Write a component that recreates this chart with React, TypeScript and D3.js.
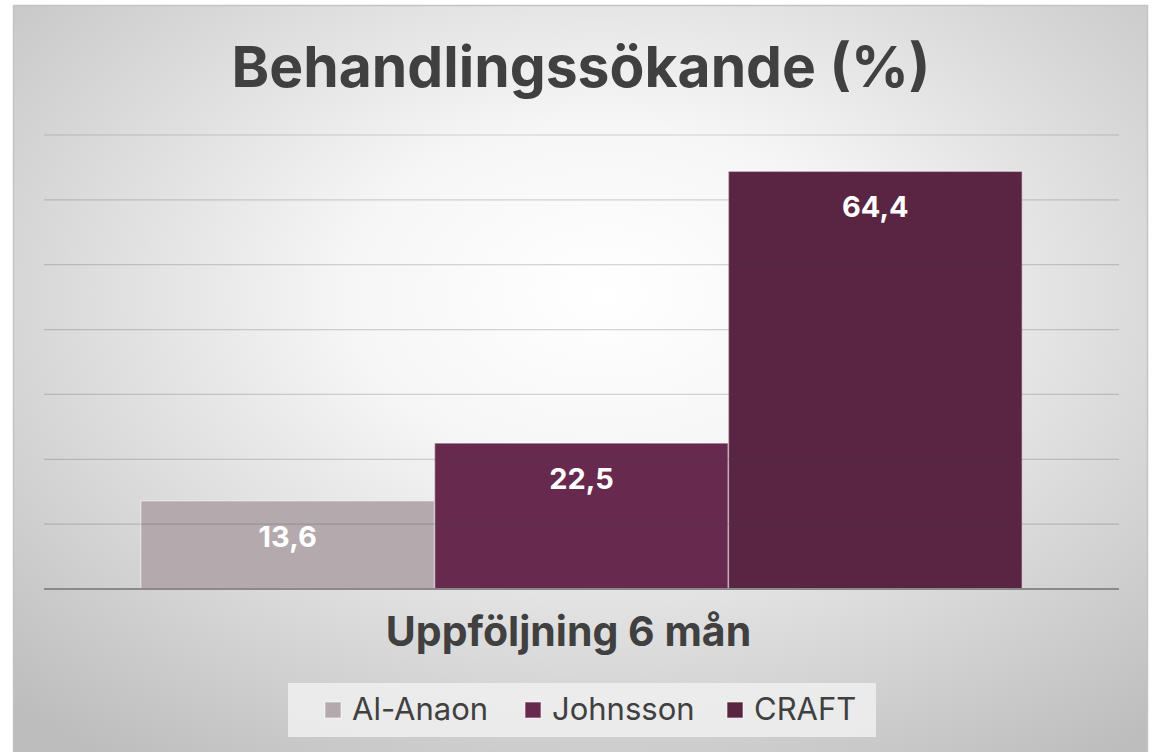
import React from "react";
import * as d3 from "d3";

const categories = ["Uppföljning 6 mån"];
const seriesNames = ["Al-Anaon", "Johnsson", "CRAFT"];
const seriesValues = [13.6, 22.5, 64.4];
const seriesColors = ["#b4a9ad", "#68294f", "#5a2443"];
const yTicks = [0, 10, 20, 30, 40, 50, 60, 70];
const title = "Behandlingssökande (%)";

export default function App() {
  const W = 1152, H = 752;
  const left = 44, right = 1119, top = 135, bottom = 589;
  const y = d3.scaleLinear().domain([0, 70]).range([bottom, top]);
  const x0 = d3.scaleBand<string>().domain(categories).range([left, right]).paddingInner(0.18).paddingOuter(0.09);
  const x1 = d3.scaleBand<string>().domain(seriesNames).range([0, x0.bandwidth()]);
  const font = "Inter, 'DejaVu Sans', sans-serif";
  const legendX = [325, 525, 727];
  return (
    <svg width={W} height={H} style={{ position: "fixed", left: 0, top: 0 }} fontFamily={font}>
      <defs>
        <radialGradient id="bg" cx="52%" cy="38%" r="75%">
          <stop offset="0%" stopColor="#ffffff" />
          <stop offset="30%" stopColor="#f6f6f6" />
          <stop offset="100%" stopColor="#bdbdbd" />
        </radialGradient>
      </defs>
      <rect x={0} y={0} width={W} height={H} fill="#ffffff" />
      <rect x={13.5} y={5.5} width={1134} height={760} fill="url(#bg)" stroke="#c4c4c4" strokeWidth={1.5} />
      <text x={581} y={87} textAnchor="middle" fontSize={57} fontWeight={700} fill="#404040">{title}</text>
      {categories.map((c) => (
        <g key={c}>
          {seriesNames.map((s, i) => (
            <rect key={s}
              x={(x0(c) ?? 0) + (x1(s) ?? 0)}
              y={y(seriesValues[i])}
              width={x1.bandwidth()}
              height={y(0) - y(seriesValues[i])}
              fill={seriesColors[i]}
              stroke="rgba(255,255,255,0.45)" strokeWidth={1.5} />
          ))}
        </g>
      ))}
      {yTicks.filter((t) => t > 0).map((t) => (
        <line key={t} x1={left} x2={right} y1={y(t)} y2={y(t)} stroke="rgba(70,70,70,0.22)" strokeWidth={1.2} />
      ))}
      <line x1={left} x2={right} y1={y(0)} y2={y(0)} stroke="#8a8a8a" strokeWidth={2} />
      {categories.map((c) => (
        <g key={c + "l"}>
          {seriesNames.map((s, i) => (
            <text key={s}
              x={(x0(c) ?? 0) + (x1(s) ?? 0) + x1.bandwidth() / 2}
              y={y(seriesValues[i]) + 46}
              textAnchor="middle" fontSize={29} fontWeight={700} fill="#ffffff">
              {seriesValues[i].toFixed(1).replace(".", ",")}
            </text>
          ))}
          <text x={(x0(c) ?? 0) + x0.bandwidth() / 2 - 13} y={646} textAnchor="middle" fontSize={41} fontWeight={700} fill="#404040">{c}</text>
        </g>
      ))}
      <rect x={288} y={683} width={588} height={54} fill="rgba(240,240,240,0.85)" />
      {seriesNames.map((s, i) => (
        <g key={s}>
          <rect x={legendX[i]} y={702} width={16} height={16} fill={seriesColors[i]} stroke="rgba(255,255,255,0.6)" strokeWidth={1} />
          <text x={legendX[i] + 27} y={720} fontSize={31} fill="#404040">{s}</text>
        </g>
      ))}
    </svg>
  );
}
